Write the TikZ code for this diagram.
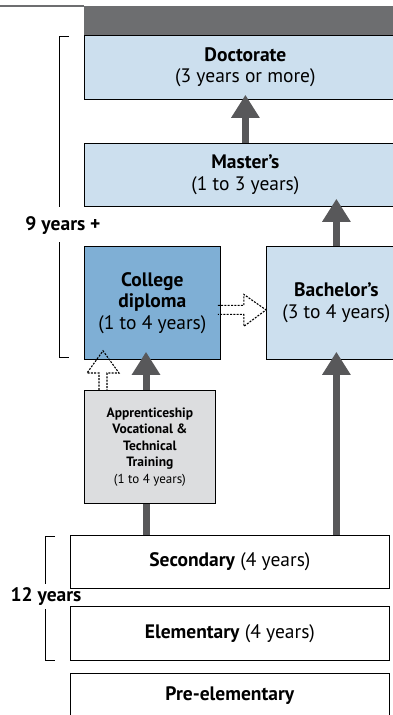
\documentclass[tikz,border=0pt]{standalone}
\usepackage{fontspec}
\setmainfont{PT Sans}
\usetikzlibrary{arrows.meta,positioning,calc}
\definecolor{lightblue}{HTML}{CCDFEE}
\definecolor{midblue}{HTML}{7FAFD5}
\definecolor{lightgrey}{HTML}{DCDDDF}
\definecolor{arrowgrey}{HTML}{58585A}
\definecolor{bandgrey}{HTML}{6D6E70}
\begin{document}
\begin{tikzpicture}[x=1pt,y=-1pt,
	box/.style={draw=black,line width=0.8pt,anchor=north west,align=center,inner sep=0pt,font=\fontsize{19.5}{21.5}\selectfont},
	smallbox/.style={box,font=\fontsize{13.5}{16.5}\selectfont},
	up/.style={draw=arrowgrey,line width=7pt,-{Triangle[width=27pt,length=23pt]}},
	shaft/.style={draw=arrowgrey,line width=7pt},
	hollow/.style={draw=black,dash pattern=on 2pt off 1.3pt,line width=1.1pt},
	bracket/.style={draw=black,line width=0.8pt},
	span/.style={font=\bfseries\fontsize{19.5}{21}\selectfont,inner sep=0pt}]
	\clip (0,0) rectangle (393,715);
	\fill[bandgrey] (84,6) rectangle (400,35);
	\draw[bandgrey,line width=1.5pt] (0,6) -- (84,6);
	\node[box,fill=lightblue,minimum width=322,minimum height=64] (doc) at (84,35) {\textbf{Doctorate}\\(3 years or more)};
	\node[box,fill=lightblue,minimum width=322,minimum height=63] (mas) at (84,143) {\textbf{Master’s}\\(1 to 3 years)};
	\node[box,fill=midblue,minimum width=136,minimum height=113] (col) at (84,246) {\textbf{College}\\\textbf{diploma}\\(1 to 4 years)};
	\node[box,fill=lightblue,minimum width=140,minimum height=113] (bach) at (266,246) {\textbf{Bachelor’s}\\(3 to 4 years)};
	\node[smallbox,fill=lightgrey,minimum width=131,minimum height=113] (app) at (84,390) {\textbf{Apprenticeship}\\\textbf{Vocational \&}\\\textbf{Technical}\\\textbf{Training}\\{\fontsize{13}{16.5}\selectfont(1 to 4 years)}};
	\node[box,fill=white,minimum width=319,minimum height=53] (sec) at (70,535) {\textbf{Secondary} (4 years)};
	\node[box,fill=white,minimum width=319,minimum height=54] (elem) at (70,606) {\textbf{Elementary} (4 years)};
	\node[box,fill=white,minimum width=319,minimum height=44] (pre) at (70,673) {\textbf{Pre-elementary}};
	\node[span] (nine) at (63,226) {9 years +};
	\node[span] (twelve) at (46,597) {12 years};

	\draw[up] (mas.north) -- ([yshift=5pt]doc.south);
	\draw[up] (bach.north) -- ([yshift=8pt]mas.south -| bach.north);
	\draw[up] (sec.north -| bach.south) -- ([yshift=8pt]bach.south);
	\draw[shaft] (sec.north -| 146,0) -- (app.south -| 146,0);
	\draw[up] (app.north -| 146,0) -- ([yshift=8pt]col.south -| 146,0);

	\coordinate (h) at ($(col.east)+(0,7)$);
	\draw[hollow] ($(h)+(-3,-4.5)$) -- ++(26,0) -- ++(0,-11) -- (h -| bach.west) -- ($(h)+(23,16.5)$) -- ++(0,-12) -- ++(-26,0);
	\coordinate (v) at (app.north -| 103,0);
	\draw[hollow] ($(v)+(-4,0)$) -- ++(0,-17) -- ++(-12,0) -- ([yshift=9pt]col.south -| v) -- ($(v)+(16,-17)$) -- ++(-12,0) -- ++(0,17);

	\draw[bracket] (69,36) -- (59,36) -- (59,207);
	\draw[bracket] (59,242) -- (59,357) -- (69,357);
	\draw[bracket] (55,536) -- (45,536) -- (45,584);
	\draw[bracket] (45,609) -- (45,660) -- (55,660);
\end{tikzpicture}
\end{document}
